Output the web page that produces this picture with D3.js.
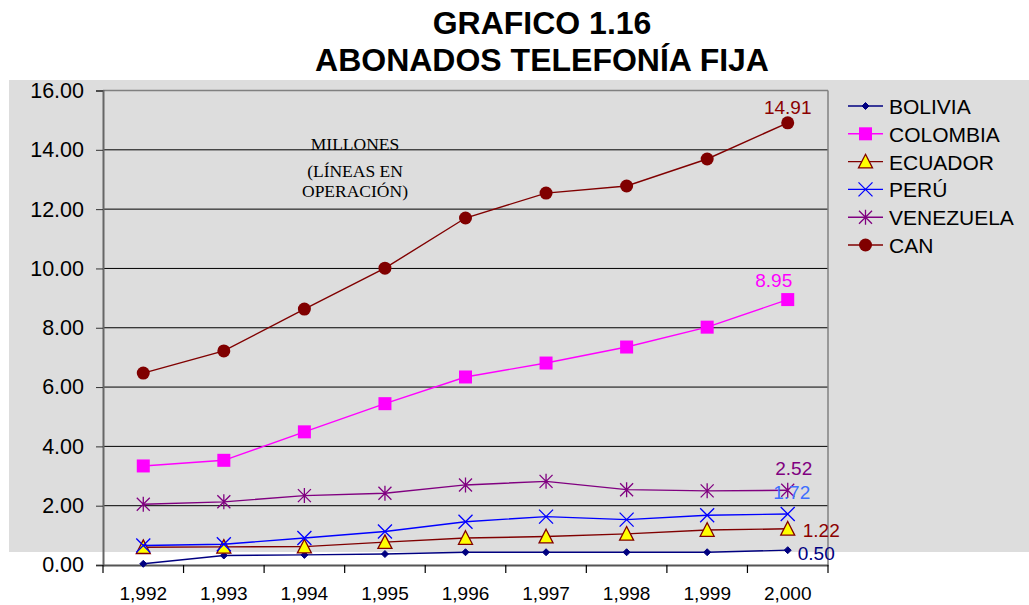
<!DOCTYPE html>
<html>
<head>
<meta charset="utf-8">
<script src="https://cdn.jsdelivr.net/npm/d3@7"></script>
<style>
  html, body { margin: 0; padding: 0; background: #ffffff; }
  svg { display: block; font-family: Arial, "Liberation Sans", sans-serif; }
</style>
</head>
<body>
<svg id="chart" width="1029" height="605"></svg>
<script>
// ---------- DATA ----------
const years = ["1,992", "1,993", "1,994", "1,995", "1,996", "1,997", "1,998", "1,999", "2,000"];
const yTicks = [0, 2, 4, 6, 8, 10, 12, 14, 16];
const seriesNames = ["BOLIVIA", "COLOMBIA", "ECUADOR", "PERÚ", "VENEZUELA", "CAN"];
const bolivia   = [0.04, 0.32, 0.34, 0.37, 0.43, 0.43, 0.43, 0.43, 0.50];
const colombia  = [3.34, 3.53, 4.49, 5.44, 6.34, 6.81, 7.35, 8.02, 8.95];
const ecuador   = [0.60, 0.61, 0.62, 0.77, 0.91, 0.96, 1.05, 1.18, 1.22];
const peru      = [0.66, 0.70, 0.91, 1.13, 1.46, 1.63, 1.53, 1.68, 1.72];
const venezuela = [2.05, 2.13, 2.34, 2.42, 2.70, 2.82, 2.54, 2.50, 2.52];
const can       = [6.47, 7.22, 8.63, 10.01, 11.70, 12.54, 12.78, 13.69, 14.91];
const endLabels = ["0.50", "8.95", "1.22", "1.72", "2.52", "14.91"];
const titleLines = ["GRAFICO 1.16", "ABONADOS TELEFONÍA FIJA"];
const noteLines = ["MILLONES", "(LÍNEAS EN", "OPERACIÓN)"];

const seriesValues = [bolivia, colombia, ecuador, peru, venezuela, can];

// ---------- STYLE ----------
const styles = [
  { color: "#000080", marker: "diamond",  fill: "#000080", labelColor: "#000080", dx: 10, dy: 10, anchor: "start" },
  { color: "#FF00FF", marker: "square",   fill: "#FF00FF", labelColor: "#FF00FF", dx: -14, dy: -13, anchor: "middle" },
  { color: "#800000", marker: "triangle", fill: "#FFFF00", labelColor: "#8B0000", dx: 15, dy: 8, anchor: "start" },
  { color: "#0000FF", marker: "x",        fill: "none",    labelColor: "#3F6FFF", dx: 4, dy: -15, anchor: "middle" },
  { color: "#800080", marker: "star",     fill: "none",    labelColor: "#800080", dx: 6, dy: -15, anchor: "middle" },
  { color: "#800000", marker: "circle",   fill: "#800000", labelColor: "#8B0000", dx: 0, dy: -9, anchor: "middle" }
];
const sansFont = "Arial, 'Liberation Sans', sans-serif";
const serifFont = "'Liberation Serif', 'Times New Roman', serif";

const svg = d3.select("#chart");
const plot = { left: 103, right: 828, top: 90.5, bottom: 565 };

// background panel
svg.append("rect").attr("x", 9).attr("y", 80).attr("width", 1020).attr("height", 472).attr("fill", "#DDDDDD");

const x = d3.scaleBand().domain(years).range([plot.left, plot.right]).padding(0);
const y = d3.scaleLinear().domain([0, 16]).range([plot.bottom, plot.top]);
const cx = d => x(d) + x.bandwidth() / 2;

// gridlines
svg.append("g").selectAll("line").data(yTicks.filter(t => t > 0)).join("line")
  .attr("x1", plot.left).attr("x2", plot.right)
  .attr("y1", d => y(d)).attr("y2", d => y(d))
  .attr("stroke", d => d === 16 ? "#808080" : "#000")
  .attr("stroke-width", d => d === 16 ? 1.5 : 1);

// right border
svg.append("line").attr("x1", plot.right).attr("x2", plot.right)
  .attr("y1", plot.top).attr("y2", plot.bottom).attr("stroke", "#808080").attr("stroke-width", 1.5);

// y axis
const yAxis = d3.axisLeft(y).tickValues(yTicks).tickFormat(d3.format(".2f")).tickSize(7).tickPadding(12);
const gy = svg.append("g").attr("transform", `translate(${plot.left},0)`).call(yAxis);
gy.select(".domain").attr("stroke", "#666").attr("stroke-width", 2);
gy.selectAll(".tick line").attr("stroke", "#333");
gy.selectAll(".tick text").attr("font-size", 21.5).attr("fill", "#000").style("font-family", sansFont);

// x axis
const xAxis = d3.axisBottom(x).tickSize(0).tickPadding(22);
const gx = svg.append("g").attr("transform", `translate(0,${plot.bottom})`).call(xAxis);
gx.select(".domain").attr("stroke", "#555").attr("stroke-width", 2);
gx.selectAll(".tick text").attr("font-size", 19).attr("fill", "#000").style("font-family", sansFont);
// tick marks at band boundaries
const bounds = years.map(d => x(d)).concat([x(years[years.length - 1]) + x.bandwidth()]);
svg.append("g").selectAll("line").data(bounds).join("line")
  .attr("x1", d => d).attr("x2", d => d)
  .attr("y1", plot.bottom).attr("y2", plot.bottom + 8)
  .attr("stroke", "#000").attr("stroke-width", 1.2);

// markers
function drawMarker(g, type, fill, color, s) {
  if (type === "diamond") {
    g.append("path").attr("d", `M0,${-s/2}L${s/2},0L0,${s/2}L${-s/2},0Z`).attr("fill", fill).attr("stroke", color);
  } else if (type === "square") {
    g.append("rect").attr("x", -s/2).attr("y", -s/2).attr("width", s).attr("height", s).attr("fill", fill);
  } else if (type === "triangle") {
    const h = s * 0.9;
    g.append("path").attr("d", `M0,${-h/2 - 1}L${s/2},${h/2}L${-s/2},${h/2}Z`)
      .attr("fill", fill).attr("stroke", color).attr("stroke-width", 1.3).attr("stroke-linejoin", "miter");
  } else if (type === "x") {
    const r = s / 2;
    g.append("path").attr("d", `M${-r},${-r}L${r},${r}M${-r},${r}L${r},${-r}`).attr("stroke", color).attr("stroke-width", 1.3).attr("fill", "none");
  } else if (type === "star") {
    const r = s / 2;
    g.append("path").attr("d", `M${-r},${-r}L${r},${r}M${-r},${r}L${r},${-r}M0,${-r-1}L0,${r+1}`).attr("stroke", color).attr("stroke-width", 1.3).attr("fill", "none");
  } else if (type === "circle") {
    g.append("circle").attr("r", s / 2).attr("fill", fill);
  }
}
const markerSize = { diamond: 7, square: 13, triangle: 14, x: 14, star: 13, circle: 13 };

const line = d3.line().x((d, i) => cx(years[i])).y(d => y(d));

seriesValues.forEach((vals, si) => {
  const st = styles[si];
  const g = svg.append("g");
  g.append("path").datum(vals).attr("d", line).attr("fill", "none")
    .attr("stroke", st.color).attr("stroke-width", 1.4);
  vals.forEach((v, i) => {
    const mg = g.append("g").attr("transform", `translate(${cx(years[i])},${y(v)})`);
    drawMarker(mg, st.marker, st.fill, st.color, markerSize[st.marker]);
  });
});

// end labels (drawn after all series)
seriesValues.forEach((vals, si) => {
  const st = styles[si];
  const last = vals.length - 1;
  svg.append("text")
    .attr("x", cx(years[last]) + st.dx)
    .attr("y", y(vals[last]) + st.dy)
    .attr("text-anchor", st.anchor)
    .attr("font-size", 19)
    .attr("fill", st.labelColor)
    .style("font-family", sansFont)
    .text(endLabels[si]);
});

// note
const noteY = [150, 177, 197];
noteLines.forEach((t, i) => {
  svg.append("text").attr("x", 355).attr("y", noteY[i]).attr("text-anchor", "middle")
    .style("font-family", serifFont).attr("font-size", 17.5)
    .attr("fill", "#000").text(t);
});

// title
const titleY = [34, 71];
titleLines.forEach((t, i) => {
  svg.append("text").attr("x", 542).attr("y", titleY[i]).attr("text-anchor", "middle")
    .attr("font-size", 32).attr("font-weight", "bold").attr("fill", "#000")
    .style("font-family", sansFont).text(t);
});

// legend
const legend = svg.append("g").attr("transform", "translate(848,106)");
seriesNames.forEach((name, i) => {
  const st = styles[i];
  const row = legend.append("g").attr("transform", `translate(0,${i * 27.8})`);
  row.append("line").attr("x1", 0).attr("x2", 35).attr("y1", 0).attr("y2", 0)
    .attr("stroke", st.color).attr("stroke-width", 1.4);
  const mg = row.append("g").attr("transform", "translate(17.5,0)");
  drawMarker(mg, st.marker, st.fill, st.color, markerSize[st.marker]);
  row.append("text").attr("x", 41).attr("y", 8).attr("font-size", 21).attr("fill", "#000")
    .style("font-family", sansFont).text(name);
});
</script>
</body>
</html>
